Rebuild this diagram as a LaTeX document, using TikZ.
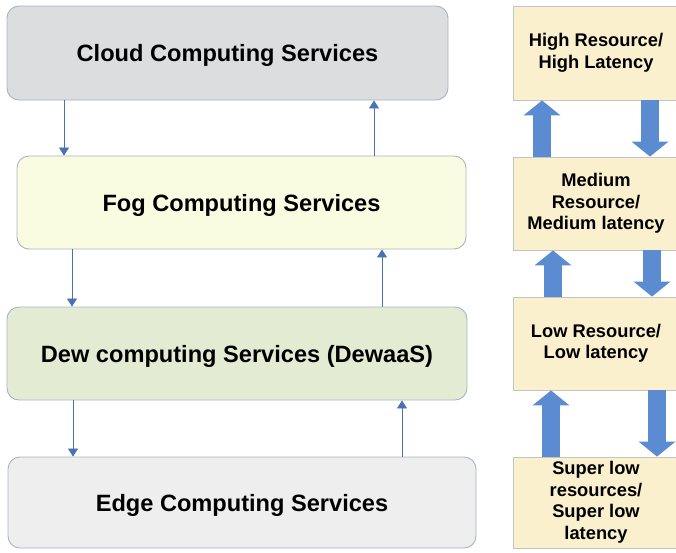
\documentclass[tikz,border=0pt]{standalone}
\usepackage{fontspec}
\setmainfont{Liberation Sans}
\usetikzlibrary{arrows.meta}
\definecolor{cloudfill}{HTML}{DCDDDF}
\definecolor{fogfill}{HTML}{FAFCE1}
\definecolor{dewfill}{HTML}{E3ECD2}
\definecolor{edgefill}{HTML}{EEEEEE}
\definecolor{levelfill}{HTML}{FAF0CD}
\definecolor{lboxline}{HTML}{A9B4C2}
\definecolor{rboxline}{HTML}{C4C4C4}
\definecolor{thinarrow}{HTML}{4A72B0}
\definecolor{blockarrow}{HTML}{5B8BD0}
\tikzset{
  layer/.style={draw=lboxline, line width=0.9pt, rounded corners=12pt, inner sep=0pt,
    text depth=0pt, font=\fontsize{23.6}{27}\selectfont\bfseries, align=center},
  level/.style={draw=rboxline, line width=0.9pt, fill=levelfill, inner sep=0pt,
    minimum width=166pt, font=\fontsize{18.3}{21.5}\selectfont\bfseries, align=center},
  thin/.style={draw=thinarrow, line width=0.8pt, -{Triangle[width=10pt,length=8pt]}},
  block/.style={draw=blockarrow, line width=18pt, -{Triangle[width=37pt,length=15pt,line width=0pt]}}
}
\begin{document}
\begin{tikzpicture}[x=1pt,y=-1pt]
\useasboundingbox (0,0) rectangle (676,552);
\begin{scope}
\clip (0,0) rectangle (676,552);
% left layers
\node[layer, fill=cloudfill, minimum width=441pt, minimum height=94pt] (cloud) at (227.5,53) {Cloud Computing Services};
\node[layer, fill=fogfill, minimum width=449pt, minimum height=93pt] (fog) at (241.5,202.5) {Fog Computing Services};
\node[layer, fill=dewfill, minimum width=460pt, minimum height=93pt] (dew) at (237,353.5) {Dew computing Services (DewaaS)};
\node[layer, fill=edgefill, minimum width=468pt, minimum height=91pt] (edge) at (242,502.5) {Edge Computing Services};
% right levels
\node[level, minimum height=94pt] (high) at (596,53) {High Resource/\\High Latency};
\node[level, minimum height=93pt] (medium) at (596,203.5) {Medium\\Resource/\\Medium latency};
\node[level, minimum height=93pt] (low) at (596,343.5) {Low Resource/\\Low latency};
\node[level, minimum height=91pt] (super) at (596,502.5) {Super low\\resources/\\Super low\\latency};
\end{scope}
% thin arrow x positions
\coordinate (d1) at (64,0);
\coordinate (u1) at (374,0);
\coordinate (d2) at (72,0);
\coordinate (u2) at (382,0);
\coordinate (d3) at (73,0);
\coordinate (u3) at (402,0);
\draw[thin] (cloud.south -| d1) -- (fog.north -| d1);
\draw[thin] (fog.north -| u1) -- (cloud.south -| u1);
\draw[thin] (fog.south -| d2) -- (dew.north -| d2);
\draw[thin] (dew.north -| u2) -- (fog.south -| u2);
\draw[thin] (dew.south -| d3) -- (edge.north -| d3);
\draw[thin] (edge.north -| u3) -- (dew.south -| u3);
% block arrow x positions
\coordinate (bu1) at (542,0);
\coordinate (bd1) at (650,0);
\coordinate (bu2) at (553,0);
\coordinate (bd2) at (652,0);
\coordinate (bu3) at (551,0);
\coordinate (bd3) at (657,0);
\draw[block] (medium.north -| bu1) -- (high.south -| bu1);
\draw[block] (high.south -| bd1) -- (medium.north -| bd1);
\draw[block] (low.north -| bu2) -- (medium.south -| bu2);
\draw[block] (medium.south -| bd2) -- (low.north -| bd2);
\draw[block] (super.north -| bu3) -- (low.south -| bu3);
\draw[block] (low.south -| bd3) -- (super.north -| bd3);
\end{tikzpicture}
\end{document}
